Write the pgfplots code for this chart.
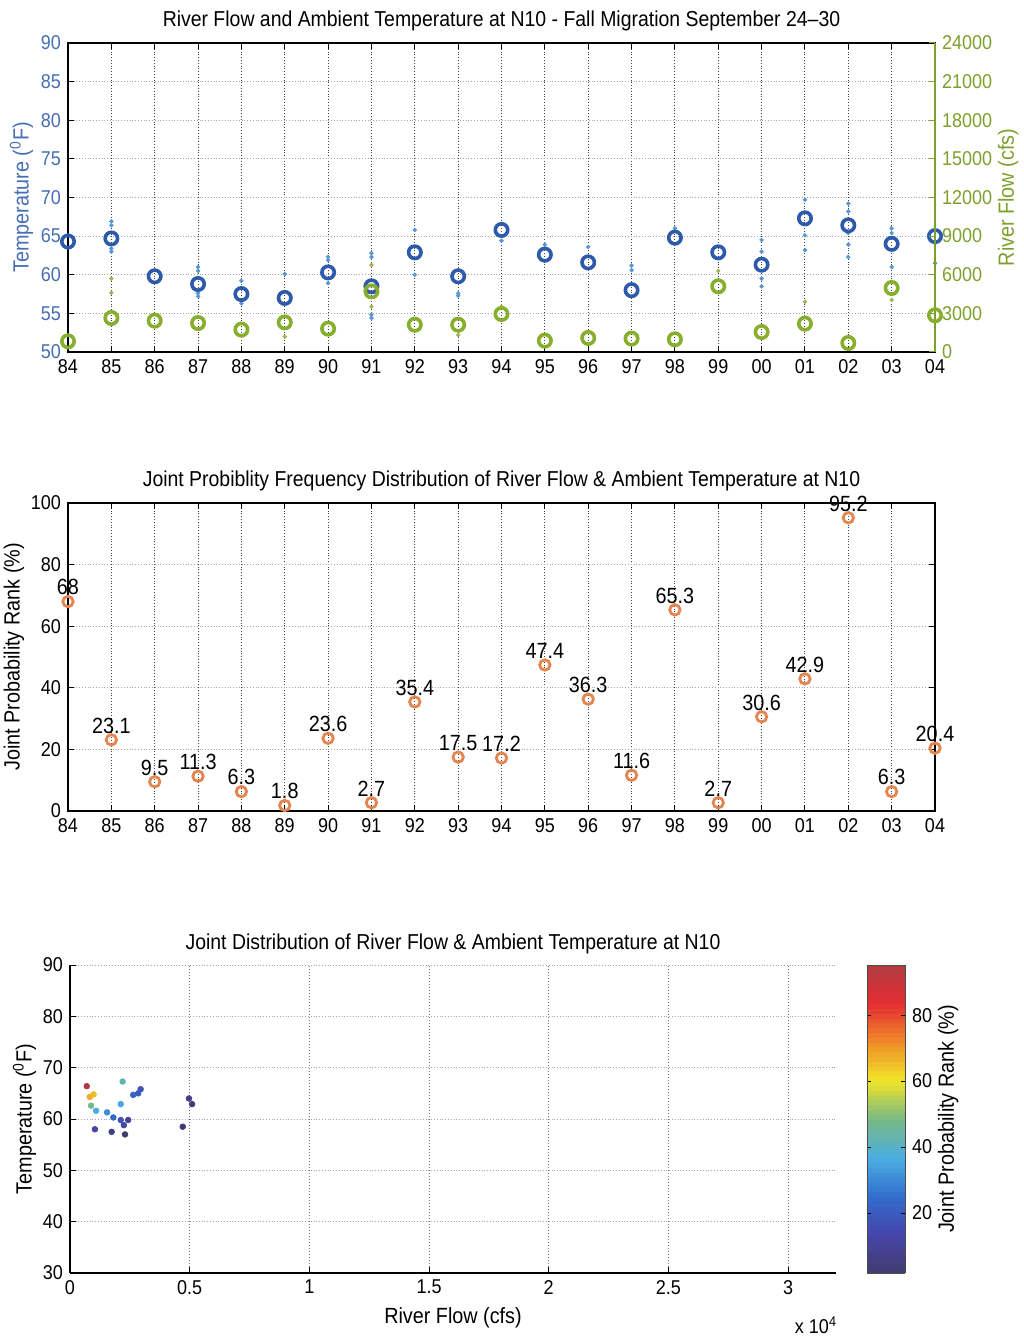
\documentclass[border=0pt]{standalone}
\usepackage{fontspec}
\setmainfont{Liberation Sans}[FakeStretch=0.9]
\usepackage{pgfplots}
\usepackage{pgfplotstable}
\pgfplotsset{compat=1.18}
\definecolor{tlabel}{RGB}{70,110,180}
\definecolor{tmark}{RGB}{45,90,170}
\definecolor{tdot}{RGB}{90,150,210}
\definecolor{flabel}{RGB}{125,160,45}
\definecolor{fmark}{RGB}{135,175,45}
\definecolor{fdot}{RGB}{160,180,90}
\definecolor{rmark}{RGB}{228,132,78}
\pgfplotstableread{
idx temp flow rank
0 64.3 830 68
1 64.7 2640 23.1
2 59.8 2430 9.5
3 58.8 2250 11.3
4 57.5 1740 6.3
5 57.0 2300 1.8
6 60.3 1810 23.6
7 58.5 4710 2.7
8 62.9 2120 35.4
9 59.8 2120 17.5
10 65.8 2950 17.2
11 62.6 880 47.4
12 61.6 1090 36.3
13 58.0 1040 11.6
14 64.8 985 65.3
15 62.9 5100 2.7
16 61.3 1550 30.6
17 67.3 2200 42.9
18 66.4 700 95.2
19 64.0 4970 6.3
20 65.0 2850 20.4
}\datatable
% daily temperature values (small dots)
\pgfplotstableread{
idx temp
1 66.9
1 66.4
1 63.4
1 63.0
3 61.0
3 60.5
3 57.6
3 57.2
4 59.2
4 56.3
5 60.1
6 62.3
6 61.9
6 58.9
7 62.8
7 62.3
7 54.8
7 54.4
8 65.8
8 60.0
9 57.6
9 57.3
10 64.4
11 63.9
12 63.6
13 60.6
13 61.2
14 66.0
16 64.5
16 63.0
16 59.5
16 58.5
17 69.7
17 65.1
17 63.2
18 69.2
18 68.2
18 65.4
18 63.9
18 62.3
19 66.0
19 65.4
19 61.0
20 61.5
}\dailytemp
% daily river flow values (small dots)
\pgfplotstableread{
idx flow
1 5700
1 4600
5 1190
7 6760
7 3520
9 1320
10 3520
15 6300
17 3900
19 4040
}\dailyflow
\pgfplotsset{
  every axis/.append style={
    font=\fontsize{10}{12}\selectfont,
    scale only axis,
    scaled ticks=false,
    /pgf/number format/assume math mode=true,
    /pgf/number format/1000 sep={},
    tick align=inside,
    major tick length=3pt,
    tick style={black, line width=0.5pt},
    axis line style={line width=0.7pt},
    title style={font=\fontsize{10.8}{13}\selectfont, at={(0.5,1)}, anchor=base, yshift=2pt},
    label style={font=\fontsize{11}{13}\selectfont},
    x grid style={densely dotted, black!75, line width=0.5pt},
    y grid style={densely dotted, black!35, line width=0.5pt},
  },
  yearticks/.style={
    xmin=0, xmax=20, xtick={0,...,20},
    xticklabels={84,85,86,87,88,89,90,91,92,93,94,95,96,97,98,99,00,01,02,03,04},
  },
}
\begin{document}
\begin{tikzpicture}
\path[use as bounding box] (0,0) rectangle (511.5pt,669.5pt);
% ---------- top panel ----------
\begin{axis}[at={(34pt,493.5pt)}, anchor=south west, width=433.5pt, height=154.5pt,
  yearticks, ymin=50, ymax=90, ytick={50,55,...,90}, ytick pos=left,
  yticklabel style={text=tlabel}, xtick pos=both,
  xmajorgrids, ymajorgrids, clip=false,
  ylabel={Temperature (\textsuperscript{0}F)}, ylabel style={text=tlabel}, ylabel shift=-3pt,
  title={River Flow and Ambient Temperature at N10 - Fall Migration September 24--30}]
\addplot[only marks, mark=*, mark size=0.9pt, draw=tdot, fill=tdot]
  table[x=idx, y=temp] {\dailytemp};
\addplot[only marks, mark=o, mark size=3.1pt, draw=tmark, mark options={line width=1.8pt, fill=white}]
  table[x=idx, y=temp] {\datatable};
\end{axis}
\begin{axis}[at={(34pt,493.5pt)}, anchor=south west, width=433.5pt, height=154.5pt,
  xmin=0, xmax=20, axis x line=none, axis y line*=right, clip=false,
  ymin=0, ymax=24000, ytick={0,3000,...,24000},
  y axis line style={draw=flabel},
  yticklabel style={text=flabel}, ytick style={draw=flabel},
  ylabel={River Flow (cfs)}, ylabel style={text=flabel}, ylabel shift=-4pt]
\addplot[only marks, mark=*, mark size=0.9pt, draw=fdot, fill=fdot]
  table[x=idx, y=flow] {\dailyflow};
\addplot[only marks, mark=o, mark size=3.1pt, draw=fmark, mark options={line width=1.8pt, fill=white}]
  table[x=idx, y=flow] {\datatable};
\end{axis}
% ---------- middle panel ----------
\begin{axis}[at={(34pt,264pt)}, anchor=south west, width=433.5pt, height=154pt,
  yearticks, ymin=0, ymax=100, ytick={0,20,...,100}, xtick pos=both, ytick pos=both,
  xmajorgrids, ymajorgrids, clip=false,
  ylabel={Joint Probability Rank (\%)}, ylabel shift=-3.5pt,
  title={Joint Probiblity Frequency Distribution of River Flow \& Ambient Temperature at N10}]
\addplot[only marks, mark=o, mark size=2.6pt, draw=rmark, mark options={line width=1.4pt, fill=white},
  point meta=explicit symbolic, nodes near coords,
  nodes near coords style={anchor=south, inner sep=0pt, yshift=2.5pt, text=black, font=\fontsize{11}{13}\selectfont}]
  table[x=idx, y=rank, meta=rank] {\datatable};
\end{axis}
% ---------- bottom panel ----------
\begin{axis}[at={(35pt,33pt)}, anchor=south west, width=383pt, height=154pt,
  xmin=0, xmax=32000, ymin=30, ymax=90,
  xtick={0,5000,10000,15000,20000,25000,30000},
  xticklabels={0,0.5,1,1.5,2,2.5,3},
  ytick={30,40,...,90},
  axis x line*=bottom, axis y line*=left, axis line style={-},
  xmajorgrids, ymajorgrids,
  x grid style={densely dotted, black!55, line width=0.5pt},
  xlabel={River Flow (cfs)},
  ylabel={Temperature (\textsuperscript{0}F)}, ylabel shift=-3.5pt,
  title={Joint Distribution of River Flow \& Ambient Temperature at N10},
  colormap={scanjet}{rgb255=(65,60,110); rgb255=(70,70,170); rgb255=(50,110,205); rgb255=(75,175,225); rgb255=(120,185,130); rgb255=(240,228,40); rgb255=(240,140,40); rgb255=(228,45,50); rgb255=(175,60,65)},
  point meta min=1.8, point meta max=95.2,
  colorbar sampled,
  colorbar style={at={(parent axis.north east)}, anchor=north west, xshift=7pt,
    width=19pt, samples=65, ytick={20,40,60,80}, yticklabel pos=right,
    ylabel={Joint Probability Rank (\%)}, ylabel shift=-4pt,
    axis line style={line width=0.5pt, black!70},
    tick align=inside, major tick length=2pt}]
\addplot[scatter, only marks, mark=*, mark size=1.4pt,
  scatter src=explicit,
  scatter/use mapped color={draw=mapped color, fill=mapped color}]
  table[x=flow, y=temp, meta=rank] {\datatable};
\end{axis}
\node[font=\fontsize{10}{12}\selectfont, anchor=center] at (408pt,7pt) {x 10\textsuperscript{4}};
\end{tikzpicture}
\end{document}
